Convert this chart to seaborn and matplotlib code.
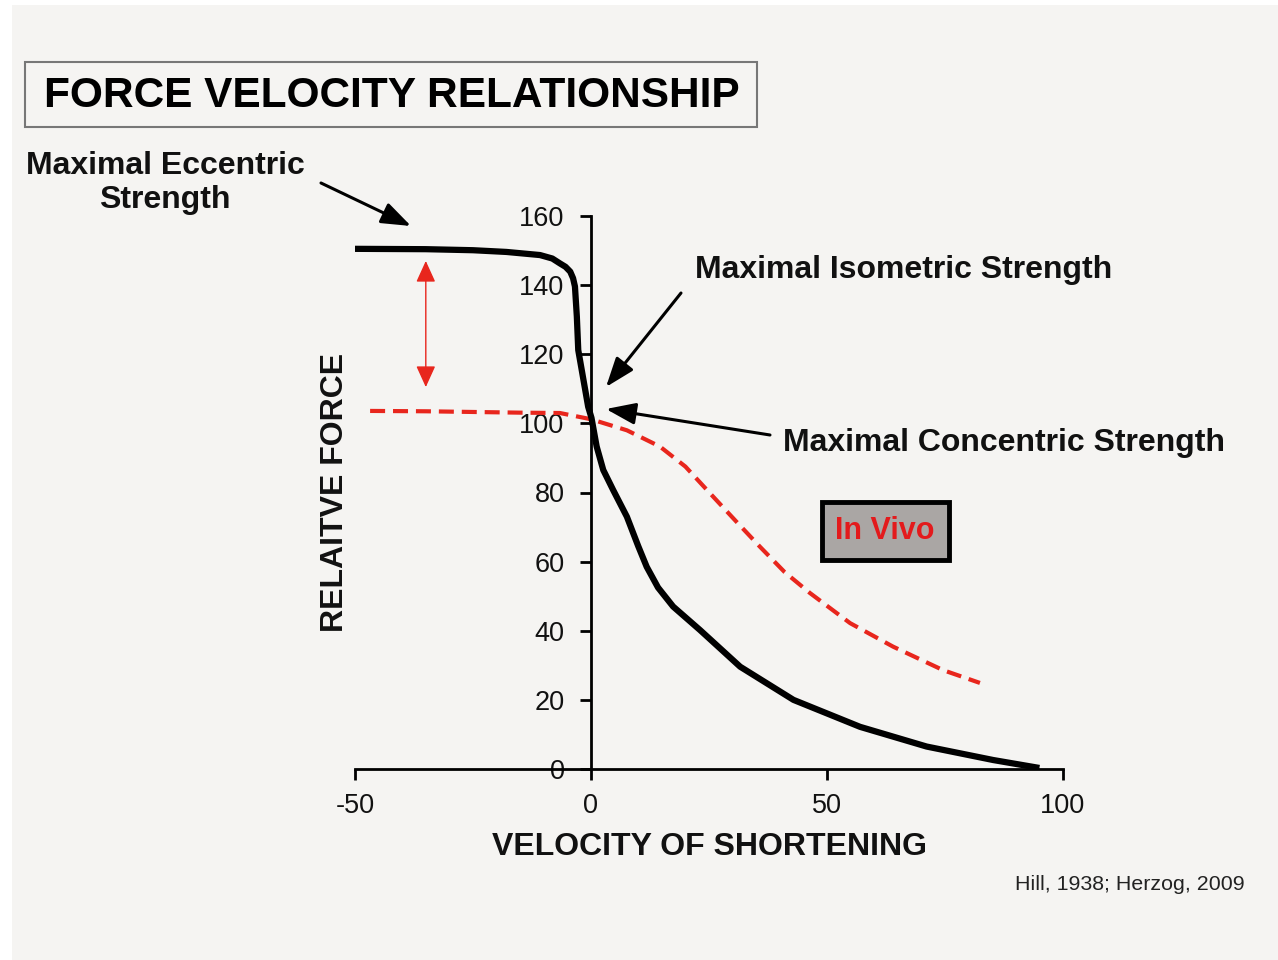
import pandas as pd
import matplotlib.pyplot as plt
import matplotlib.patches as mpatches
import seaborn as sns

# ----------------------------
# Data
# ----------------------------
hill_velocity = [-50, -35, -25, -17.9, -10.8, -8.2, -6.6, -5.4, -4.4, -3.8, -3.4, -3.0, -2.7,
                 -1.6, -0.6, 0.1, 1.2, 2.6, 4.7, 7.6, 10.0, 11.8, 14.2, 17.4, 23.1, 31.6, 42.9,
                 57, 71.1, 85.2, 95]
hill_force = [150.5, 150.4, 150.1, 149.6, 148.7, 147.7, 146.3, 145.3, 143.9, 142, 139.6, 130.9,
              121.2, 112.6, 104.8, 101.6, 93.3, 86.5, 80.7, 73, 64.5, 58.5, 52.5, 47, 40.2,
              29.6, 20, 12.2, 6.5, 2.6, 0.3]

vivo_velocity = [-46.8, -35, -25, -15, -6.6, 0, 7.6, 14.6, 20, 25.2, 30.5, 35.8, 41, 46.4,
                 54.9, 64, 74.6, 82.4]
vivo_force = [103.6, 103.5, 103.3, 103.1, 103, 101.2, 98, 93.3, 87.5, 79.8, 72, 64.3, 57, 50.9,
              42.2, 35.4, 28.6, 24.9]

x_ticks = [-50, 0, 50, 100]
y_ticks = [0, 20, 40, 60, 80, 100, 120, 140, 160]

hill = pd.DataFrame({"velocity": hill_velocity, "force": hill_force})
vivo = pd.DataFrame({"velocity": vivo_velocity, "force": vivo_force})

sns.set_theme(style="white")
plt.rcParams["font.family"] = ["Liberation Sans", "DejaVu Sans"]

bg = "#f5f4f2"
fig = plt.figure(figsize=(12.78, 9.6), dpi=100, facecolor="white")
fig.patches.append(mpatches.Rectangle((12 / 1278, 0), 1, 1 - 5 / 960, transform=fig.transFigure,
                                      facecolor=bg, edgecolor="none", zorder=-10))

ax = fig.add_axes([355 / 1278, 1 - 769 / 960, 708 / 1278, 553 / 960])
ax.set_facecolor("none")

sns.lineplot(data=hill, x="velocity", y="force", ax=ax, color="black", linewidth=4.5,
             sort=False, estimator=None, zorder=3)
sns.lineplot(data=vivo, x="velocity", y="force", ax=ax, color="#e8261d", linewidth=3.0,
             sort=False, estimator=None, zorder=2)
ax.lines[-1].set_dashes([3.6, 1.9])
for ln in ax.lines:
    ln.set_solid_joinstyle("round")
    ln.set_solid_capstyle("butt")

ax.set_xlim(-50, 100)
ax.set_ylim(0, 160)
ax.set_xticks(x_ticks)
ax.set_yticks(y_ticks)
ax.set_xticklabels([str(v) for v in x_ticks])
ax.set_yticklabels([str(v) for v in y_ticks])

ax.spines["left"].set_position(("data", 0))
ax.spines["bottom"].set_position(("data", 0))
ax.spines["right"].set_visible(False)
ax.spines["top"].set_visible(False)
for s in ["left", "bottom"]:
    ax.spines[s].set_linewidth(2)
    ax.spines[s].set_color("black")
ax.tick_params(axis="both", direction="out", length=8, width=2, color="black",
               labelsize=19.5, labelcolor="#111111", left=True, bottom=True)
ax.tick_params(axis="x", pad=9)
ax.tick_params(axis="y", pad=11)
ax.set_xlabel("")
ax.set_ylabel("")

# axis titles
fig.text(710 / 1278, 1 - 847 / 960, "VELOCITY OF SHORTENING", ha="center", va="center",
         fontsize=23, fontweight="bold", color="#111111")
fig.text(335 / 1278, 1 - 492 / 960, "RELAITVE FORCE", ha="center", va="center", rotation=90,
         fontsize=23, fontweight="bold", color="#111111")

# title box
fig.text(392 / 1278, 1 - 96 / 960, "FORCE VELOCITY RELATIONSHIP", ha="center", va="center",
         fontsize=30.5, fontweight="bold", color="black")
fig.patches.append(mpatches.Rectangle((25 / 1278, 1 - 127 / 960), 732 / 1278, 65 / 960,
                                      transform=fig.transFigure, facecolor="none",
                                      edgecolor="#777777", linewidth=1.5))

# annotations
arrow = dict(arrowstyle="-|>,head_length=1.5,head_width=0.55", color="black", lw=2.2,
             shrinkA=0, shrinkB=0)
fig.text(165 / 1278, 1 - 183 / 960, "Maximal Eccentric\nStrength", ha="center", va="center",
         fontsize=23, fontweight="bold", color="#111111", linespacing=1.15)
ax.annotate("", xy=(411 / 1278, 1 - 226 / 960), xytext=(321 / 1278, 1 - 183 / 960),
            xycoords="figure fraction", textcoords="figure fraction", arrowprops=arrow)

fig.text(695 / 1278, 1 - 270 / 960, "Maximal Isometric Strength", ha="left", va="center",
         fontsize=23, fontweight="bold", color="#111111")
ax.annotate("", xy=(606 / 1278, 1 - 387 / 960), xytext=(681 / 1278, 1 - 293 / 960),
            xycoords="figure fraction", textcoords="figure fraction", arrowprops=arrow)

fig.text(783 / 1278, 1 - 443 / 960, "Maximal Concentric Strength", ha="left", va="center",
         fontsize=23, fontweight="bold", color="#111111")
ax.annotate("", xy=(606 / 1278, 1 - 409 / 960), xytext=(770 / 1278, 1 - 435 / 960),
            xycoords="figure fraction", textcoords="figure fraction", arrowprops=arrow)

# double arrow showing the gap
ax.annotate("", xy=(-35, 147), xytext=(-35, 110.5),
            arrowprops=dict(arrowstyle="<|-|>,head_length=1.1,head_width=0.5",
                            color="#e8261d", lw=1, shrinkA=0, shrinkB=0))

# In Vivo box
fig.text(885 / 1278, 1 - 531 / 960, "In Vivo", ha="center", va="center", fontsize=22,
         fontweight="bold", color="#e31a1c",
         bbox=dict(boxstyle="square,pad=0.45", facecolor="#aaa6a4", edgecolor="black", linewidth=3.5))

fig.text(1245 / 1278, 1 - 885 / 960, "Hill, 1938; Herzog, 2009", ha="right", va="center",
         fontsize=15.4, color="#222222")

fig.savefig("out.png", dpi=100, facecolor=fig.get_facecolor())
